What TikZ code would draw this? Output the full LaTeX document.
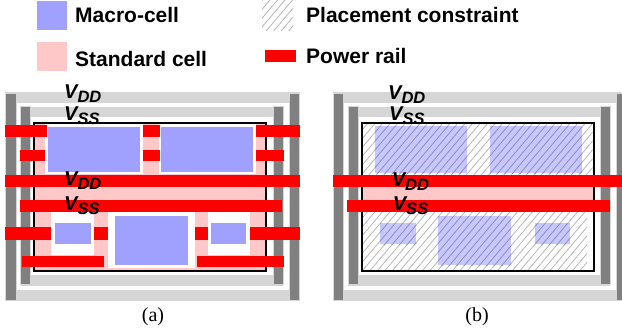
\documentclass[tikz,border=0pt]{standalone}
\usepackage{fontspec}
\setmainfont{Liberation Sans}
\newfontfamily\capfont{Liberation Serif}
\definecolor{macrocol}{HTML}{A0A0FF}
\definecolor{macrofade}{HTML}{C8C8FF}
\definecolor{stdcol}{HTML}{FFC8C8}
\definecolor{ringlight}{HTML}{D6D6D6}
\definecolor{ringdark}{HTML}{808080}
\definecolor{hatchgray}{HTML}{B4B4B4}
\definecolor{hatchblue}{HTML}{8A8AC4}
\tikzset{
  macrocell/.style={fill=macrocol,draw=none},
  fadecell/.style={fill=macrofade,draw=none},
  stdcell/.style={fill=stdcol,draw=none},
  halo/.style={fill=white,draw=none},
  railbar/.style={fill=red,draw=none},
  ringband/.style={fill=ringlight,draw=none},
  ringbar/.style={fill=ringdark,draw=ringlight,line width=.6bp},
  corebox/.style={draw=black,line width=1.9bp},
  legendtext/.style={anchor=base west,inner sep=0pt,font=\fontsize{21bp}{21bp}\selectfont\bfseries},
  supply/.style={anchor=base west,inner sep=0pt,font=\fontsize{20bp}{20bp}\selectfont\bfseries\itshape},
  caption/.style={anchor=base,inner sep=0pt,font=\capfont\fontsize{20bp}{20bp}\selectfont}
}
\newcommand{\railname}[1]{V\raisebox{-4.2bp}{\fontsize{16.5bp}{16.5bp}\selectfont #1}}
\newcommand{\hatcharea}[5]{%
  \begin{scope}
    \clip (#2,#3) rectangle (#4,#5);
    \foreach \c in {0,7.5,...,1000} \draw[draw=#1,line width=.75bp] (\c,0) -- ++(-340,400);
  \end{scope}}
\newcommand{\supplyrings}{%
  \fill[ringband] (5.3,92.3) rectangle (299.7,102.7);
  \fill[ringband] (5.3,290) rectangle (299.7,300.7);
  \fill[ringband] (20.5,106.7) rectangle (283,117.3);
  \fill[ringband] (20.5,275) rectangle (283,285.7);
  \draw[ringbar] (5.6,93.5) rectangle (16,300.4);
  \draw[ringbar] (289,93.5) rectangle (299.4,300.4);
  \draw[ringbar] (20.7,105.8) rectangle (30.4,284.7);
  \draw[ringbar] (273,105.8) rectangle (283,284.7);
}
\begin{document}
\begin{tikzpicture}[x=1bp,y=-1bp]
\useasboundingbox (0,0) rectangle (622,333);
\clip (0,0) rectangle (622,333);
% legend
\fill[macrocell] (37,1) rectangle (67,30);
\fill[stdcell] (37,42) rectangle (67,71);
\hatcharea{hatchgray}{262}{0}{293}{30}
\fill[railbar] (265,50) rectangle (296,62);
\node[legendtext] (lgmacro) at (75,22) {Macro-cell};
\node[legendtext] (lgstd) at (75,66.7) {Standard cell};
\node[legendtext] (lgplace) at (306,22) {Placement constraint};
\node[legendtext] (lgrail) at (306,63) {Power rail};
% panel a
\supplyrings
\fill[stdcell] (34.3,122.7) rectangle (266.3,271);
\fill[halo] (45,124) rectangle (143,174.3);
\fill[halo] (159,124) rectangle (256,174.3);
\fill[halo] (107.7,212) rectangle (195,267.7);
\fill[halo] (51,212) rectangle (94,255);
\fill[halo] (208,212) rectangle (250,255);
\fill[macrocell] (48,126.7) rectangle (140,171.7);
\fill[macrocell] (161,126.7) rectangle (253,171.7);
\fill[macrocell] (115,216) rectangle (188,265);
\fill[macrocell] (55,223) rectangle (91,244);
\fill[macrocell] (211,223) rectangle (246,244);
\draw[corebox] (34.3,122.7) rectangle (266.3,271);
\fill[railbar] (5,125) rectangle (47,136.7);
\fill[railbar] (143,125) rectangle (159.7,136.7);
\fill[railbar] (256,125) rectangle (300,136.7);
\fill[railbar] (19.7,149.7) rectangle (45,161.3);
\fill[railbar] (143,149.7) rectangle (159.7,161.3);
\fill[railbar] (256,149.7) rectangle (283.7,161.3);
\fill[railbar] (5,175) rectangle (300,187);
\fill[railbar] (19.7,200) rectangle (282.3,212);
\fill[railbar] (5,227.3) rectangle (51,240);
\fill[railbar] (94,227.3) rectangle (107.7,240);
\fill[railbar] (195,227.3) rectangle (208.3,240);
\fill[railbar] (249.7,227.3) rectangle (300,240);
\fill[railbar] (21.7,255.7) rectangle (104.3,267.3);
\fill[railbar] (197,255.7) rectangle (283.7,267.3);
\node[supply] (avdd) at (64,98.5) {\railname{DD}};
\node[supply] (avss) at (64,120) {\railname{SS}};
\node[supply] (avddb) at (64,185) {\railname{DD}};
\node[supply] (avssb) at (64,210) {\railname{SS}};
\node[caption] (capa) at (153,321) {(a)};
% panel b
\begin{scope}[xshift=327.4bp]
\supplyrings
\end{scope}
\fill[stdcell] (361.7,175) rectangle (593.7,212);
\hatcharea{hatchgray}{363}{124}{592.5}{175}
\hatcharea{hatchgray}{363}{212}{587}{269.5}
\fill[fadecell] (375,126) rectangle (467,173);
\fill[fadecell] (490,126) rectangle (582,173);
\fill[fadecell] (380,223) rectangle (416,244);
\fill[fadecell] (438,216) rectangle (511,265);
\fill[fadecell] (535,223) rectangle (570,244);
\hatcharea{hatchblue}{375}{126}{467}{173}
\hatcharea{hatchblue}{490}{126}{582}{173}
\hatcharea{hatchblue}{380}{223}{416}{244}
\hatcharea{hatchblue}{438}{216}{511}{265}
\hatcharea{hatchblue}{535}{223}{570}{244}
\draw[corebox] (361.7,122.7) rectangle (593.7,270.7);
\fill[railbar] (332.7,175) rectangle (622,187);
\fill[railbar] (347,200.3) rectangle (609.7,212);
\node[supply] (bvdd) at (388,99.3) {\railname{DD}};
\node[supply] (bvss) at (389,120) {\railname{SS}};
\node[supply] (bvddb) at (391.7,186) {\railname{DD}};
\node[supply] (bvssb) at (392.7,210) {\railname{SS}};
\node[caption] (capb) at (477,321) {(b)};
\end{tikzpicture}
\end{document}
